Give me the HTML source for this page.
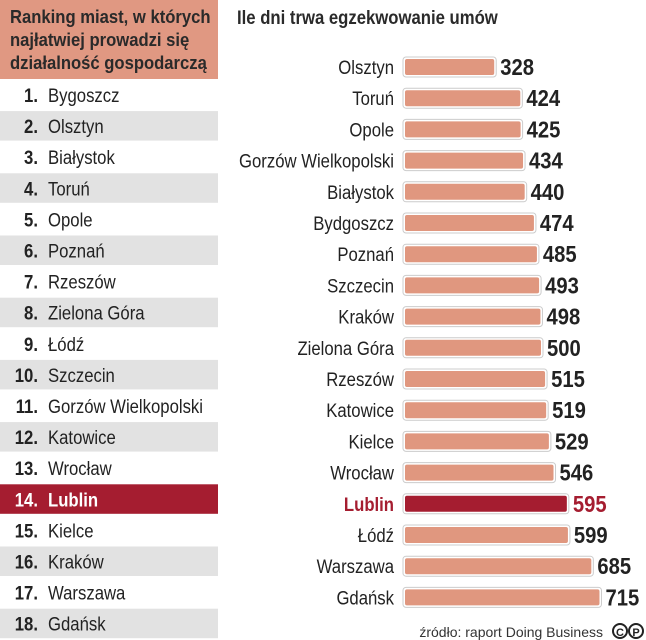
<!DOCTYPE html>
<html><head><meta charset="utf-8"><style>
html,body{margin:0;padding:0;background:#fff;}
svg{display:block;}
text{font-family:"Liberation Sans Narrow","Liberation Sans",sans-serif;}
</style></head><body>
<svg id="c" width="646" height="640" viewBox="0 0 646 640">
<rect x="0" y="0" width="218" height="79" fill="#e09882"/>
<g transform="translate(10,0) scale(0.9,1)">
<text x="0" y="23" font-size="18.5" font-weight="bold" fill="#2a2a2a">Ranking miast, w których</text>
<text x="0" y="46" font-size="18.5" font-weight="bold" fill="#2a2a2a">najłatwiej prowadzi się</text>
<text x="0" y="69" font-size="18.5" font-weight="bold" fill="#2a2a2a">działalność gospodarczą</text>
</g>
<text transform="translate(237,0) scale(0.88,1)" x="0" y="24" font-size="19" font-weight="bold" fill="#2a2a2a">Ile dni trwa egzekwowanie umów</text>
<g id="rank"></g>
<g id="bars"></g>
<text x="603" y="637" font-size="14" text-anchor="end" fill="#333" style="font-family:'Liberation Sans',sans-serif">źródło: raport Doing Business</text>
<g>
<circle cx="620" cy="631" r="7" fill="none" stroke="#222" stroke-width="2"/>
<circle cx="636" cy="631" r="7" fill="none" stroke="#222" stroke-width="2"/>
<text x="620" y="636" font-size="11" font-weight="bold" text-anchor="middle" fill="#222">C</text>
<text x="636" y="636" font-size="11" font-weight="bold" text-anchor="middle" fill="#222">P</text>
</g>
</svg>
<script>
const rankCities=["Bygoszcz","Olsztyn","Białystok","Toruń","Opole","Poznań","Rzeszów","Zielona Góra","Łódź","Szczecin","Gorzów Wielkopolski","Katowice","Wrocław","Lublin","Kielce","Kraków","Warszawa","Gdańsk"];
const categories=["Olsztyn","Toruń","Opole","Gorzów Wielkopolski","Białystok","Bydgoszcz","Poznań","Szczecin","Kraków","Zielona Góra","Rzeszów","Katowice","Kielce","Wrocław","Lublin","Łódź","Warszawa","Gdańsk"];
const values=[328,424,425,434,440,474,485,493,498,500,515,519,529,546,595,599,685,715];
const highlight="Lublin";
const NS="http://www.w3.org/2000/svg";
const SX=0.88;
function mk(tag,attrs,parent){const e=document.createElementNS(NS,tag);for(const k in attrs)e.setAttribute(k,attrs[k]);parent.appendChild(e);return e;}
function txt(x,y,attrs,parent){attrs.x=0;attrs.y=0;attrs.transform='translate('+x+','+y+') scale('+SX+',1)';return mk('text',attrs,parent);}
const x0=405, xs=0.272;
function xScale(v){return x0+v*xs;}
function yBar(i){return 67+i*31.2;}
const rg=document.getElementById('rank');
rankCities.forEach((c,i)=>{
  const top=80+i*31.1;
  const hl=c===highlight;
  if(hl||i%2===1){
    const r=mk('rect',{x:0,y:top,width:218,height:29.5,fill:hl?'#a51d30':'#e2e2e2'},rg);
    
    
  }
  const n=txt(38,top+22,{'font-size':19,'font-weight':'bold','text-anchor':'end',fill:hl?'#fff':'#222'},rg);
  n.textContent=(i+1)+'.';
  
  
  const t=txt(48,top+22,{'font-size':19,'font-weight':hl?'bold':'normal',fill:hl?'#fff':'#222'},rg);
  t.textContent=c;
  
  
});
const bg=document.getElementById('bars');
categories.forEach((c,i)=>{
  const y=yBar(i), v=values[i], hl=c===highlight;
  const l=txt(394,y+7,{'font-size':19,'text-anchor':'end','font-weight':hl?'bold':'normal',fill:hl?'#a51d30':'#222'},bg);
  l.textContent=c;
  
  
  const r=mk('rect',{x:x0-2,y:y-10,width:xScale(v)-x0+4,height:20,rx:3,fill:'#fff',stroke:'#ccc','stroke-width':1},bg);
  
  
  const b=mk('rect',{x:x0,y:y-8,width:xScale(v)-x0,height:16,rx:2,fill:hl?'#a51d30':'#e0977f'},bg);
  
  
  const vt=txt(xScale(v)+6,y+8,{'font-size':23,'font-weight':'bold',fill:hl?'#a51d30':'#222'},bg);
  vt.textContent=v;
  
  
});
</script>
</body></html>
